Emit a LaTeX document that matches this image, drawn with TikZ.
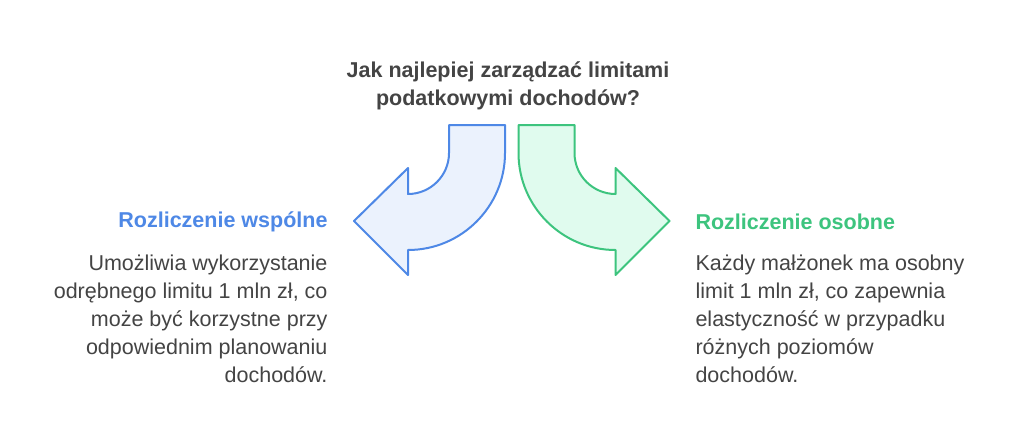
\documentclass[tikz,border=0pt]{standalone}
\usepackage{fontspec}
\setmainfont{Liberation Sans}
\definecolor{txt}{HTML}{444444}
\definecolor{bl}{HTML}{4E88E6}
\definecolor{blf}{HTML}{EBF2FD}
\definecolor{gr}{HTML}{3DC47E}
\definecolor{grf}{HTML}{E0FBEE}
\newcommand{\arrshape}{(449,125) -- (505,125) -- (505,153) .. controls (505,206.5) and (461.5,250) .. (408,250)
 -- (408,275) -- (354,221) -- (408,168) -- (408,194)
 .. controls (430.6,194) and (449,175.6) .. (449,153) -- cycle}
\begin{document}
\begin{tikzpicture}[x=1pt,y=-1pt,
  body/.style={text=txt,font=\fontsize{21.5}{28}\selectfont},
  head/.style={font=\bfseries\fontsize{21.5}{26}\selectfont},
  arr/.style={line width=2pt,line join=round}]
\useasboundingbox[fill=white] (0,0) rectangle (1024,444);
\path[arr,draw=bl,fill=blf] \arrshape;
\begin{scope}[x=-1pt,xshift=1023.5pt]
\path[arr,draw=gr,fill=grf] \arrshape;
\end{scope}
\node[body,font=\bfseries\fontsize{21.5}{28}\selectfont,align=center] (t) at (508,86) {Jak najlepiej zarządzać limitami\\podatkowymi dochodów?};
\node[head,text=bl,anchor=east] (lh) at (331,222) {Rozliczenie wspólne};
\node[body,anchor=north east,align=right] (lb) at (331,251) {Umożliwia wykorzystanie\\odrębnego limitu 1 mln zł, co\\może być korzystne przy\\odpowiednim planowaniu\\dochodów.};
\node[head,text=gr,anchor=west] (rh) at (692,222) {Rozliczenie osobne};
\node[body,anchor=north west,align=left] (rb) at (692,251) {Każdy małżonek ma osobny\\limit 1 mln zł, co zapewnia\\elastyczność w przypadku\\różnych poziomów\\dochodów.};
\end{tikzpicture}
\end{document}
